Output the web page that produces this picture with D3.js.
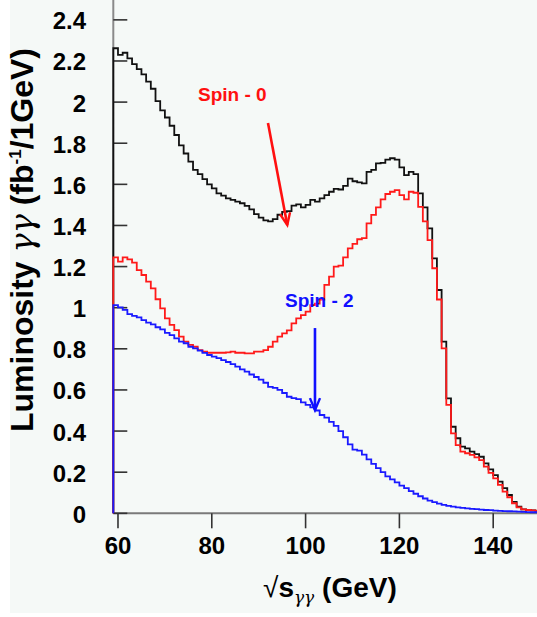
<!DOCTYPE html>
<html><head><meta charset="utf-8">
<script src="https://cdn.jsdelivr.net/npm/d3@7/dist/d3.min.js"></script>
<style>
html,body{margin:0;padding:0;background:#ffffff;}
svg{display:block;}
text{font-family:"Liberation Sans",Arial,Helvetica,sans-serif;}
</style></head>
<body>
<svg id="c" width="537" height="617"></svg>
<script>
// Bin low edges (GeV), 1 GeV bins
const binEdges = [59,60,61,62,63,64,65,66,67,68,69,70,71,72,73,74,75,76,77,78,79,80,81,82,83,84,85,86,87,88,89,90,91,92,93,94,95,96,97,98,99,100,101,102,103,104,105,106,107,108,109,110,111,112,113,114,115,116,117,118,119,120,121,122,123,124,125,126,127,128,129,130,131,132,133,134,135,136,137,138,139,140,141,142,143,144,145,146,147,148,149,150];

// Total (black)
const totalValues = [2.262,2.23,2.24,2.213,2.185,2.16,2.135,2.10,2.065,2.005,1.96,1.925,1.885,1.84,1.79,1.75,1.71,1.67,1.65,1.625,1.60,1.58,1.556,1.545,1.532,1.524,1.516,1.508,1.495,1.478,1.455,1.438,1.425,1.42,1.431,1.452,1.466,1.47,1.496,1.503,1.488,1.50,1.524,1.516,1.532,1.548,1.564,1.578,1.575,1.593,1.628,1.615,1.61,1.605,1.661,1.67,1.702,1.704,1.72,1.727,1.72,1.683,1.645,1.661,1.65,1.556,1.488,1.386,1.24,1.086,0.835,0.559,0.421,0.365,0.324,0.316,0.30,0.288,0.275,0.243,0.214,0.186,0.154,0.122,0.089,0.056,0.032,0.019,0.016,0.014,0.012];

// Spin-0 (red)
const spin0Values = [1.245,1.224,1.245,1.235,1.219,1.183,1.159,1.127,1.094,1.041,0.997,0.948,0.916,0.891,0.859,0.835,0.819,0.81,0.794,0.786,0.781,0.781,0.781,0.781,0.783,0.786,0.781,0.781,0.778,0.778,0.786,0.786,0.794,0.81,0.835,0.859,0.875,0.89,0.924,0.948,0.964,0.981,1.013,1.02,1.04,1.111,1.151,1.20,1.205,1.245,1.289,1.31,1.333,1.338,1.41,1.451,1.488,1.527,1.553,1.564,1.572,1.548,1.527,1.564,1.559,1.49,1.42,1.329,1.192,1.04,0.802,0.527,0.389,0.332,0.30,0.292,0.284,0.272,0.259,0.227,0.197,0.170,0.138,0.105,0.078,0.049,0.029,0.019,0.016,0.014,0.012];

// Spin-2 (blue)
const spin2Values = [1.013,1.002,0.989,0.969,0.96,0.953,0.94,0.927,0.919,0.905,0.895,0.878,0.867,0.851,0.835,0.827,0.81,0.802,0.791,0.78,0.77,0.762,0.755,0.745,0.736,0.726,0.713,0.70,0.689,0.675,0.663,0.65,0.635,0.615,0.61,0.60,0.585,0.567,0.56,0.555,0.54,0.527,0.515,0.50,0.478,0.465,0.445,0.425,0.40,0.37,0.335,0.31,0.305,0.285,0.262,0.24,0.22,0.2,0.18,0.165,0.15,0.135,0.122,0.108,0.095,0.083,0.072,0.062,0.054,0.047,0.041,0.036,0.032,0.029,0.026,0.024,0.022,0.02,0.018,0.016,0.015,0.013,0.012,0.011,0.01,0.009,0.008,0.007,0.006,0.005,0.005];

const xTicks = [60,80,100,120,140];
const yTicks = [0,0.2,0.4,0.6,0.8,1,1.2,1.4,1.6,1.8,2,2.2,2.4];

const annotations = [
  {label:"Spin - 0", color:"#ff1010", tx:77.06, ty:2.007, x1:91.98, y1:1.898, x2:96.1, y2:1.402},
  {label:"Spin - 2", color:"#1010ff", tx:95.6, ty:1.005, x1:102.0, y1:0.901, x2:102.0, y2:0.502}
];

const svg = d3.select("#c");
const W = 537, H = 617;

// panel background
svg.append("rect").attr("x",10).attr("y",0).attr("width",W-10).attr("height",613).attr("fill","#f5f9f7");

const x = d3.scaleLinear().domain([59,150]).range([113.3,540.1]);
const y = d3.scaleLinear().domain([0,2.5]).range([513.3,-0.7]);

// axes lines
svg.append("line").attr("x1",x(59)).attr("x2",W).attr("y1",y(0)).attr("y2",y(0))
  .attr("stroke","#7a7a7a").attr("stroke-width",2);
svg.append("line").attr("x1",x(59)).attr("x2",x(59)).attr("y1",0).attr("y2",y(0))
  .attr("stroke","#8a8a8a").attr("stroke-width",2);

// y ticks (inward)
const yAxis = svg.append("g");
yTicks.forEach(t=>{
  yAxis.append("line").attr("x1",x(59)).attr("x2",x(59)+14).attr("y1",y(t)).attr("y2",y(t))
    .attr("stroke","#333").attr("stroke-width",1.6);
  yAxis.append("text").attr("x",86).attr("y",y(t)+9.5).attr("text-anchor","end")
    .attr("font-size",24).attr("font-weight","bold").attr("fill","#000").text(d3.format("~g")(t));
});
// x ticks (outward)
const xAxis = svg.append("g");
xTicks.forEach(t=>{
  xAxis.append("line").attr("x1",x(t)).attr("x2",x(t)).attr("y1",y(0)).attr("y2",y(0)+15)
    .attr("stroke","#333").attr("stroke-width",1.6);
  xAxis.append("text").attr("x",x(t)).attr("y",554).attr("text-anchor","middle")
    .attr("font-size",24).attr("font-weight","bold").attr("fill","#000").text(t);
});

// histograms
function histPath(vals){
  const pts = [[binEdges[0],0]];
  vals.forEach((v,i)=>pts.push([binEdges[i],v]));
  pts.push([binEdges[vals.length], vals[vals.length-1]]);
  return d3.line().x(d=>x(d[0])).y(d=>y(d[1])).curve(d3.curveStepAfter)(pts);
}
const series = [
  {vals:totalValues, color:"#111111"},
  {vals:spin0Values, color:"#ff1a1a"},
  {vals:spin2Values, color:"#1a1aff"}
];
series.forEach(s=>{
  svg.append("path").attr("d",histPath(s.vals)).attr("fill","none")
    .attr("stroke",s.color).attr("stroke-width",1.8).attr("stroke-linejoin","miter");
});

// annotations
annotations.forEach(a=>{
  svg.append("text").attr("x",x(a.tx)).attr("y",y(a.ty)).attr("font-size",19)
    .attr("font-weight","bold").attr("fill",a.color).text(a.label);
  const X1=x(a.x1),Y1=y(a.y1),X2=x(a.x2),Y2=y(a.y2);
  svg.append("line").attr("x1",X1).attr("y1",Y1).attr("x2",X2).attr("y2",Y2)
    .attr("stroke",a.color).attr("stroke-width",2.6);
  const ang = Math.atan2(Y2-Y1,X2-X1), L=13, h=0.4;
  const p = [[X2-L*Math.cos(ang-h),Y2-L*Math.sin(ang-h)],[X2,Y2],[X2-L*Math.cos(ang+h),Y2-L*Math.sin(ang+h)]];
  svg.append("path").attr("d",d3.line()(p)).attr("fill","none").attr("stroke",a.color).attr("stroke-width",2.4);
});

// y label
const yl = svg.append("text").attr("transform","translate(33,240) rotate(-90)")
  .attr("text-anchor","middle").attr("font-size",32).attr("font-weight","bold").attr("fill","#000");
yl.append("tspan").text("Luminosity ");
yl.append("tspan").attr("font-family","DejaVu Serif").attr("font-style","italic").attr("font-weight","normal").text("γγ");
yl.append("tspan").text(" (fb");
yl.append("tspan").attr("font-size",17).attr("dy",-12).text("-1");
yl.append("tspan").attr("dy",12).text("/1GeV)");

// x label
const xl = svg.append("text").attr("x",263).attr("y",597).attr("font-size",28).attr("font-weight","bold").attr("fill","#000");
xl.append("tspan").attr("font-weight","normal").text("√");
xl.append("tspan").text("s");
xl.append("tspan").attr("font-size",17).attr("dy",6).attr("font-family","DejaVu Serif").attr("font-style","italic").attr("font-weight","normal").text("γγ");
xl.append("tspan").attr("dy",-6).text(" (GeV)");
</script>
</body></html>
